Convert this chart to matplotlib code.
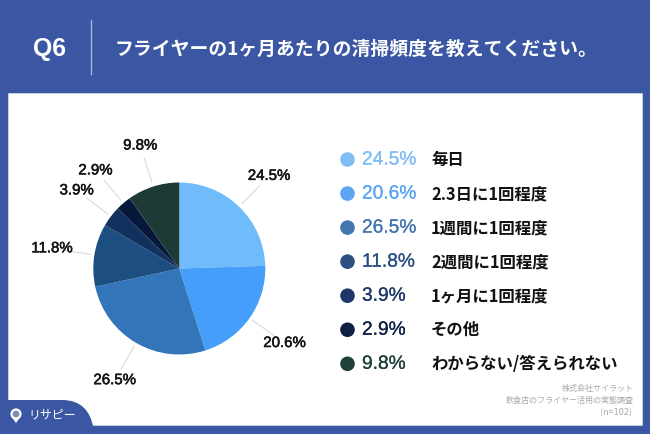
import numpy as np
import matplotlib
matplotlib.use("Agg")
import matplotlib.pyplot as plt
import matplotlib.patheffects as pe
from matplotlib.patches import Rectangle, PathPatch, Circle, Polygon
from matplotlib.path import Path

# Values
categories = ["毎日", "2.3日に1回程度", "1週間に1回程度", "2週間に1回程度",
              "1ヶ月に1回程度", "その他", "わからない/答えられない"]
values = [24.5, 20.6, 26.5, 11.8, 3.9, 2.9, 9.8]
pie_colors = ["#70bbf9", "#459ffa", "#3275b8", "#1d4e82", "#13315f", "#07183a", "#1d3a36"]
legend_colors = ["#80bdf6", "#5ca5f3", "#4375b0", "#2a4f80", "#1e3768", "#0f1f44", "#1e3f3a"]
title = "フライヤーの1ヶ月あたりの清掃頻度を教えてください。"
source_lines = ["株式会社サイラット", "飲食店のフライヤー活用の実態調査", "(n=102) "]
source_sizes = [5.75, 5.8, 6.5]

BLUE = "#3b57a3"
JP = ["Noto Sans CJK JP", "DejaVu Sans"]
LAT = ["Liberation Sans", "DejaVu Sans"]
H = 434


def py(y):
    # picture pixels count from the top
    return H - y


def thicken(color, width):
    # the reference numbers sit between regular and bold
    return [pe.withStroke(linewidth=width, foreground=color)]


fig = plt.figure(figsize=(6.5, 4.34), dpi=100, facecolor=BLUE)
ax = fig.add_axes([0, 0, 1, 1])

# White panel and the tab in its corner
ax.add_patch(Rectangle((8, py(425)), 634, 332, fc="white", ec="#c9d3ea", lw=0.6, zorder=1))
tab_verts = [(8, py(426)), (8, py(400)), (62, py(400)), (82, py(400)), (90, py(412)),
             (93, py(426)), (8, py(426))]
tab_codes = [Path.MOVETO, Path.LINETO, Path.LINETO, Path.CURVE4, Path.CURVE4, Path.CURVE4,
             Path.CLOSEPOLY]
ax.add_patch(PathPatch(Path(tab_verts, tab_codes), fc=BLUE, ec="none", zorder=2))

# Header
ax.text(49.5, py(49), "Q6", family=LAT, weight="bold", fontsize=17.8, color="white",
        ha="center", va="center")
ax.plot([90.5, 90.5], [py(20), py(74)], color="#aab6d8", lw=1)
ax.text(115, py(49), title, family=JP, weight="bold", fontsize=13.55, color="white",
        ha="left", va="center")

# Pie
cx, cy, r = 179.3, py(268.5), 86
wedges, _ = ax.pie(values, colors=pie_colors, startangle=90, counterclock=False,
                   center=(cx, cy), radius=r, wedgeprops={"lw": 0})
for w, v in zip(wedges, values):
    mid = np.deg2rad((w.theta1 + w.theta2) / 2)
    ux, uy = np.cos(mid), np.sin(mid)
    ax.plot([cx + 90 * ux, cx + 116 * ux], [cy + 90 * uy, cy + 116 * uy], color="#d4d4d4", lw=0.7)
    ax.text(cx + 129 * ux, cy + 129 * uy, f"{v}%", family=LAT, fontsize=10.8,
            color="#151515", ha="center", va="center", path_effects=thicken("#151515", 0.4))

# Legend rows
for i, (name, v, c) in enumerate(zip(categories, values, legend_colors)):
    y = py(159.5 + 34.05 * i)
    ax.add_patch(Circle((347.5, y), 7.3, fc=c, ec="none"))
    ax.text(362, y - 0.5, f"{v}%", family=LAT, fontsize=13.8, color=c, ha="left", va="center",
            path_effects=thicken(c, 0.15))
    ax.text(431, y - 0.5, name, family=JP, weight="bold", fontsize=11.8, color="#111111",
            ha="left", va="center")

# Source note
for i, (line, size) in enumerate(zip(source_lines, source_sizes)):
    ax.text(634, py(388 + 12.5 * i), line, family=JP, fontsize=size, color="#a8a8a8",
            ha="right", va="center")

# Logo
ax.add_patch(Polygon([(11, py(416)), (21, py(416)), (16, py(423))], fc="white", ec="none", zorder=3))
ax.add_patch(Circle((16, py(414)), 5.6, fc="white", ec="none", zorder=3))
ax.add_patch(Circle((16, py(414)), 3.4, fc="#7d8fbc", ec="none", zorder=3))
ax.text(28, py(415), "リサピー", family=JP, fontsize=8.6, color="white", ha="left", va="center", zorder=3)

# pie() resets the limits, so set them last
ax.set_xlim(0, 650)
ax.set_ylim(0, H)
ax.set_aspect("auto")
ax.axis("off")

fig.savefig("out.png", dpi=100, facecolor=BLUE)
